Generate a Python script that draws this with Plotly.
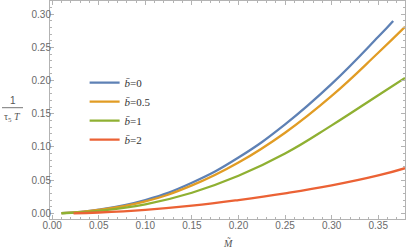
import plotly.graph_objects as go

# Data
m_b0 = [0.01, 0.05, 0.10, 0.15, 0.20, 0.25, 0.30, 0.35, 0.366]
y_b0 = [0.0002, 0.0055, 0.020, 0.046, 0.084, 0.134, 0.195, 0.266, 0.290]

m_b05 = [0.01, 0.05, 0.10, 0.15, 0.20, 0.25, 0.30, 0.35, 0.3787]
y_b05 = [0.0002, 0.005, 0.018, 0.042, 0.0765, 0.1215, 0.177, 0.242, 0.281]

m_b1 = [0.01, 0.05, 0.10, 0.15, 0.20, 0.25, 0.30, 0.35, 0.3787]
y_b1 = [0.0001, 0.0038, 0.0135, 0.031, 0.0565, 0.090, 0.1325, 0.178, 0.204]

m_b2 = [0.023, 0.05, 0.10, 0.15, 0.20, 0.25, 0.30, 0.35, 0.3787]
y_b2 = [0.0, 0.0012, 0.0052, 0.0115, 0.020, 0.030, 0.042, 0.057, 0.068]

labels = ["<i>b̄</i>=0", "<i>b̄</i>=0.5", "<i>b̄</i>=1", "<i>b̄</i>=2"]
colors = ["#5E81B5", "#E19C24", "#8FB032", "#EB6235"]

x_ticks = [0.00, 0.05, 0.10, 0.15, 0.20, 0.25, 0.30, 0.35]
y_ticks = [0.00, 0.05, 0.10, 0.15, 0.20, 0.25, 0.30]

fig = go.Figure()
for xs, ys, lab, col in zip([m_b0, m_b05, m_b1, m_b2], [y_b0, y_b05, y_b1, y_b2], labels, colors):
    fig.add_trace(go.Scatter(x=xs, y=ys, mode="lines", name=lab,
                             line=dict(color=col, width=2.3, shape="spline", smoothing=1.3)))

frame = "#b3b3b3"
tickfont = dict(family="Liberation Sans, Arial, sans-serif", size=10, color="#6a6a6a")
fig.update_layout(
    width=407, height=251,
    margin=dict(l=50, r=2, t=1, b=32),
    paper_bgcolor="white", plot_bgcolor="white",
    showlegend=True,
    legend=dict(x=0.0975, y=0.692, xanchor="left", yanchor="top",
                font=dict(family="Liberation Serif, Times New Roman, serif", size=11, color="#333"),
                bgcolor="rgba(0,0,0,0)", tracegroupgap=0, itemwidth=30),
    xaxis=dict(range=[-0.0023, 0.3787], tickvals=x_ticks, ticktext=[f"{v:.2f}" for v in x_ticks],
               showgrid=False, zeroline=False, showline=True, linecolor=frame, linewidth=1,
               mirror="allticks", ticks="inside", ticklen=4, tickcolor=frame,
               minor=dict(dtick=0.01, ticks="inside", ticklen=2, tickcolor=frame, showgrid=False),
               tickfont=tickfont, ticklabelstandoff=-3),
    yaxis=dict(range=[-0.0086, 0.320], tickvals=y_ticks, ticktext=[f"{v:.2f}" for v in y_ticks],
               showgrid=False, zeroline=False, showline=True, linecolor=frame, linewidth=1,
               mirror="allticks", ticks="inside", ticklen=4, tickcolor=frame,
               minor=dict(dtick=0.01, ticks="inside", ticklen=2, tickcolor=frame, showgrid=False),
               tickfont=tickfont, ticklabelstandoff=-4),
)

# axis labels
fig.add_annotation(text="<i>M̃</i>", xref="paper", yref="paper", x=0.5, y=0, yshift=-24,
                   showarrow=False, font=dict(family="Liberation Serif, serif", size=10, color="#555"),
                   xanchor="center", yanchor="middle")
fig.add_annotation(text="1", xref="paper", yref="paper", x=0, y=0, xshift=-37.5, yshift=119,
                   showarrow=False, font=dict(family="Liberation Sans, sans-serif", size=10, color="#555"),
                   xanchor="center", yanchor="middle")
fig.add_annotation(text="τ<sub>5</sub> <i>T</i>", xref="paper", yref="paper", x=0, y=0, xshift=-37.5, yshift=102,
                   showarrow=False, font=dict(family="Liberation Serif, serif", size=10, color="#555"),
                   xanchor="center", yanchor="middle")
fig.add_shape(type="line", xref="paper", yref="paper", x0=-48/355, x1=-27/355,
              y0=(219-107.7)/218, y1=(219-107.7)/218, line=dict(color="#777", width=1))

fig.write_html("out.html", config={"displayModeBar": False},
               post_script="document.body.style.margin='0';")
